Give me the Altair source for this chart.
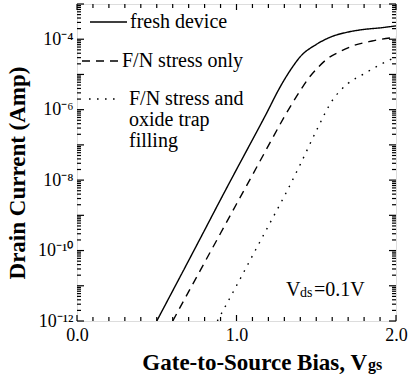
import altair as alt
import pandas as pd

# ---- data ----
fresh_vgs = [0.50, 0.60, 0.70, 0.80, 0.90, 1.00, 1.10, 1.20, 1.25, 1.30, 1.35, 1.40, 1.50, 1.60, 1.70, 1.80, 1.90, 2.00]
fresh_id = [1.0e-12, 7.2e-12, 5.2e-11, 3.8e-10, 2.8e-9, 2.0e-8, 1.4e-7, 1.0e-6, 2.8e-6, 7.1e-6, 1.6e-5, 3.2e-5, 7.1e-5, 1.2e-4, 1.6e-4, 1.9e-4, 2.1e-4, 2.4e-4]

fn_vgs = [0.60, 0.70, 0.80, 0.90, 1.00, 1.10, 1.20, 1.30, 1.40, 1.45, 1.50, 1.57, 1.65, 1.73, 1.85, 2.00]
fn_id = [1.0e-12, 6.8e-12, 4.6e-11, 3.1e-10, 2.1e-9, 1.4e-8, 9.5e-8, 6.3e-7, 3.5e-6, 7.6e-6, 1.4e-5, 2.8e-5, 4.5e-5, 6.5e-5, 8.9e-5, 1.15e-4]

trap_vgs = [0.88, 1.00, 1.10, 1.20, 1.30, 1.40, 1.50, 1.60, 1.70, 1.80, 1.90, 2.00]
trap_id = [1.0e-12, 1.0e-11, 7.1e-11, 5.0e-10, 3.5e-9, 2.8e-8, 2.5e-7, 1.8e-6, 5.6e-6, 1.05e-5, 1.9e-5, 3.1e-5]

series_names = ["fresh device", "F/N stress only", "F/N stress and oxide trap filling"]

x_label_values = [0.0, 1.0, 2.0]
x_minor_ticks = [0.1, 0.2, 0.3, 0.4, 0.5, 0.6, 0.7, 0.8, 0.9, 1.1, 1.2, 1.3, 1.4, 1.5, 1.6, 1.7, 1.8, 1.9]
y_label_values = [1e-12, 1e-10, 1e-8, 1e-6, 1e-4]
y_labels = ["10⁻¹²", "10⁻¹⁰", "10⁻⁸", "10⁻⁶", "10⁻⁴"]
y_major_ticks = [1e-12, 1e-11, 1e-10, 1e-9, 1e-8, 1e-7, 1e-6, 1e-5, 1e-4, 1e-3]
y_minor_ticks = [m * d for d in y_major_ticks[:-1] for m in (2, 3, 4, 5, 6, 7, 8, 9)]

FONT = "Liberation Serif, Times New Roman, serif"
W, H = 319, 317

df = pd.concat([
    pd.DataFrame({"Vgs": fresh_vgs, "Id": fresh_id, "series": series_names[0]}),
    pd.DataFrame({"Vgs": fn_vgs, "Id": fn_id, "series": series_names[1]}),
    pd.DataFrame({"Vgs": trap_vgs, "Id": trap_id, "series": series_names[2]}),
])

xscale = alt.Scale(domain=[0, 2], nice=False, zero=False)
yscale = alt.Scale(type="log", domain=[1e-12, 1e-3], nice=False)

label_expr = " : ".join(
    f"datum.value > {v*0.5:g} && datum.value < {v*2:g} ? '{l}'" for v, l in zip(y_label_values, y_labels)
) + " : ''"

dash_scale = alt.Scale(domain=series_names, range=[[1, 0], [8, 6], [1.6, 6.4]])

curves = alt.Chart(df).mark_line(color="black", strokeWidth=1.4, clip=True, interpolate="monotone").encode(
    x=alt.X("Vgs:Q", scale=xscale,
            axis=alt.Axis(values=x_label_values, format=".1f", ticks=False, domain=False, grid=False,
                          title=None, labelFont=FONT, labelFontSize=18, labelColor="black", labelPadding=5,
                          labelFlush=False)),
    y=alt.Y("Id:Q", scale=yscale,
            axis=alt.Axis(values=y_label_values, labelExpr=label_expr, ticks=False, domain=False, grid=False,
                          title=None, labelFont=FONT, labelFontSize=18,
                          labelColor="black", labelPadding=4, labelFlush=False)),
    strokeDash=alt.StrokeDash("series:N", scale=dash_scale, legend=None),
    detail="series:N",
)

# ---- inner ticks ----
def xticks(vals, length):
    d = pd.DataFrame({"v": vals})
    bottom = alt.Chart(d).mark_rule(color="black", strokeWidth=1.2).encode(
        x=alt.X("v:Q", scale=xscale), y=alt.value(H), y2=alt.value(H - length))
    top = alt.Chart(d).mark_rule(color="black", strokeWidth=1.2).encode(
        x=alt.X("v:Q", scale=xscale), y=alt.value(0), y2=alt.value(length))
    return [bottom, top]

def yticks(vals, length):
    d = pd.DataFrame({"v": vals})
    left = alt.Chart(d).mark_rule(color="black", strokeWidth=1.2).encode(
        y=alt.Y("v:Q", scale=yscale), x=alt.value(0), x2=alt.value(length))
    right = alt.Chart(d).mark_rule(color="black", strokeWidth=1.2).encode(
        y=alt.Y("v:Q", scale=yscale), x=alt.value(W), x2=alt.value(W - length))
    return [left, right]

tick_layers = xticks(x_label_values, 6) + xticks(x_minor_ticks, 4) + yticks(y_major_ticks, 7) + yticks(y_minor_ticks, 4)

one = pd.DataFrame({"a": [0]})

def rule(x1, x2, y, dash):
    return alt.Chart(one).mark_rule(color="black", strokeWidth=1.4, strokeDash=dash).encode(
        x=alt.value(x1), x2=alt.value(x2), y=alt.value(y))

def text(t, x, y, size=18, weight="normal", align="left", baseline="middle", angle=0):
    return alt.Chart(one).mark_text(text=t, font=FONT, fontSize=size, fontWeight=weight, align=align,
                                    baseline=baseline, color="black", angle=angle).encode(
        x=alt.value(x), y=alt.value(y))

legend = [
    rule(13, 50, 18, [1, 0]), text("fresh device", 53, 18, size=20),
    rule(5, 43, 57, [8, 6]), text("F/N stress only", 45, 57, size=20),
    rule(12, 42, 95, [1.6, 6.4]), text("F/N stress and", 52, 95, size=20),
    text("oxide trap", 52, 116, size=20), text("filling", 52, 137, size=20),
]

vds = [
    text("V", 209, 286, size=20),
    text("ds", 223, 289, size=14),
    text("=0.1V", 237, 286, size=20),
]

titles = [
    text("Gate-to-Source Bias, V", 290, 366, size=23, weight="bold", align="right", baseline="alphabetic"),
    text("gs", 291, 366, size=16, weight="bold", align="left", baseline="alphabetic"),
    text("Drain Current (Amp)", -59, 169, size=23, weight="bold", align="center", baseline="middle", angle=270),
]

chart = alt.layer(curves, *tick_layers, *legend, *vds, *titles).properties(
    width=W, height=H,
    padding={"left": 77, "top": 4, "right": 16, "bottom": 55},
    autosize=alt.AutoSizeParams(type="none"),
).configure_view(stroke="black", strokeWidth=1.5).configure(background="white")

chart.save("out.html", embed_options={"renderer": "svg", "actions": False})
